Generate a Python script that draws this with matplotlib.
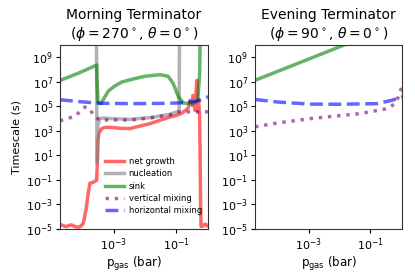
import matplotlib
matplotlib.use('Agg')
import matplotlib.pyplot as plt
import numpy as np

# all values are log10(p_gas / bar) and log10(timescale / s)
morn_growth_p = [-4.742, -4.645, -4.526, -4.452, -4.365, -4.258, -4.152, -4.065, -3.990,
                 -3.903, -3.839, -3.774, -3.677, -3.613, -3.558, -3.532, -3.516, -3.484,
                 -3.419, -3.323, -3.129, -2.806, -2.484, -1.839, -1.194, -0.977, -0.806,
                 -0.613, -0.548, -0.484, -0.452, -0.387, -0.332, -0.306, -0.274, -0.242,
                 -0.226, -0.210, -0.194, -0.129, -0.065, 0.0, 0.032]
morn_growth_t = [-4.62, -4.72, -4.81, -4.70, -4.67, -4.80, -4.86, -4.76, -4.54,
                 -3.46, -2.24, -1.26, -1.20, -1.10, -1.02, 0.61, 2.24, 2.80,
                 3.13, 3.27, 3.29, 3.21, 3.19, 3.59, 4.13, 4.27, 4.45,
                 4.84, 5.49, 5.08, 5.89, 4.67, 7.11, 4.67, 5.49, 4.30,
                 1.42, -2.64, -4.80, -4.76, -4.60, -4.76, -4.70]

morn_nucl_p = [-3.565, -3.548, -3.516, -3.452, -3.355, -3.129, -2.484, -1.839, -1.194,
               -0.977, -0.903, -0.887]
morn_nucl_t = [11.0, 0.4, 3.5, 4.0, 4.05, 4.0, 3.94, 4.08, 4.35, 4.54, 4.6, 11.0]

morn_sink_p = [-4.742, -4.15, -3.613, -3.558, -3.545, -3.516, -3.42, -3.30, -3.18, -2.98,
               -2.75, -2.35, -2.0, -1.52, -1.25, -1.09, -0.92, -0.76, -0.45, -0.30,
               -0.24, -0.22]
morn_sink_t = [7.11, 7.7, 8.30, 8.38, 7.0, 5.35, 5.22, 5.75, 6.25, 6.65,
               6.98, 7.25, 7.45, 7.58, 7.44, 6.85, 5.76, 5.27, 5.22, 5.49,
               7.66, 11.0]

morn_vmix_p = [-4.742, -4.687, -4.258, -3.935, -3.774, -3.668, -3.452, -3.129, -2.484,
               -1.839, -1.194, -0.977, 0.032]
morn_vmix_t = [3.80, 3.86, 4.19, 4.94, 4.81, 4.27, 3.86, 3.90, 3.88, 4.05, 4.30, 4.55, 4.55]

morn_hmix_p = [-4.742, -4.2, -3.45, -2.5, -1.5, -0.87, -0.33, 0.04]
morn_hmix_t = [5.54, 5.40, 5.25, 5.22, 5.24, 5.28, 5.42, 5.78]

eve_sink_p = [-4.74, -3.0, -1.75, 0.03]
eve_sink_t = [7.12, 8.85, 10.1, 11.9]

eve_vmix_p = [-4.74, -4.0, -2.94, -1.32, -0.46, -0.20, -0.09, 0.03]
eve_vmix_t = [3.33, 3.65, 4.00, 4.41, 4.81, 5.20, 5.76, 6.63]

eve_hmix_p = [-4.74, -4.0, -2.94, -2.0, -0.78, -0.30, 0.03]
eve_hmix_t = [5.56, 5.35, 5.18, 5.17, 5.22, 5.49, 5.78]

yticks = [1e-5, 1e-3, 1e-1, 1e1, 1e3, 1e5, 1e7, 1e9]
xticks = [1e-3, 1e-1]

lw = 2.5
al = 0.6


def pw(a):
    return 10.0 ** np.array(a)


fig = plt.figure(figsize=(4.15, 2.77), dpi=100)
ax1 = fig.add_axes([60 / 415, 1 - 229 / 277, 148 / 415, 184 / 277])
ax2 = fig.add_axes([255 / 415, 1 - 229 / 277, 147 / 415, 184 / 277])

ax1.plot(pw(morn_growth_p), pw(morn_growth_t), color='red', lw=lw, alpha=al, label='net growth')
ax1.plot(pw(morn_nucl_p), pw(morn_nucl_t), color='gray', lw=lw, alpha=al, label='nucleation')
ax1.plot(pw(morn_sink_p), pw(morn_sink_t), color='green', lw=lw, alpha=al, label='sink')
ax1.plot(pw(morn_vmix_p), pw(morn_vmix_t), color='purple', lw=lw, alpha=al, ls=':',
         label='vertical mixing')
ax1.plot(pw(morn_hmix_p), pw(morn_hmix_t), color='blue', lw=lw, alpha=al, ls='--',
         label='horizontal mixing')

ax2.plot(pw(eve_sink_p), pw(eve_sink_t), color='green', lw=lw, alpha=al)
ax2.plot(pw(eve_vmix_p), pw(eve_vmix_t), color='purple', lw=lw, alpha=al, ls=':')
ax2.plot(pw(eve_hmix_p), pw(eve_hmix_t), color='blue', lw=lw, alpha=al, ls='--')

for ax in (ax1, ax2):
    ax.set_xscale('log')
    ax.set_yscale('log')
    ax.set_xlim(10 ** -4.74, 10 ** 0.03)
    ax.set_ylim(1e-5, 1e10)
    ax.set_xticks(xticks)
    ax.set_yticks(yticks)
    ax.minorticks_off()
    ax.tick_params(labelsize=8, length=3, width=0.8, pad=2)
    ax.set_xlabel(r'p$_{\rm gas}$ (bar)', fontsize=8.5, labelpad=2)
    for s in ax.spines.values():
        s.set_linewidth(0.8)
        s.set_color('#333333')

ax1.set_ylabel('Timescale (s)', fontsize=8, labelpad=3)
ax1.set_title('Morning Terminator\n' + r'($\phi=270^\circ$, $\theta=0^\circ$)', fontsize=10, pad=5)
ax2.set_title('Evening Terminator\n' + r'($\phi=90^\circ$, $\theta=0^\circ$)', fontsize=10, pad=5)

ax1.legend(loc='lower right', bbox_to_anchor=(1.02, 0.025), fontsize=6, frameon=False,
           handlelength=2.2, borderaxespad=0.7, labelspacing=0.4, handletextpad=0.6)

fig.savefig('out.png', dpi=100)
